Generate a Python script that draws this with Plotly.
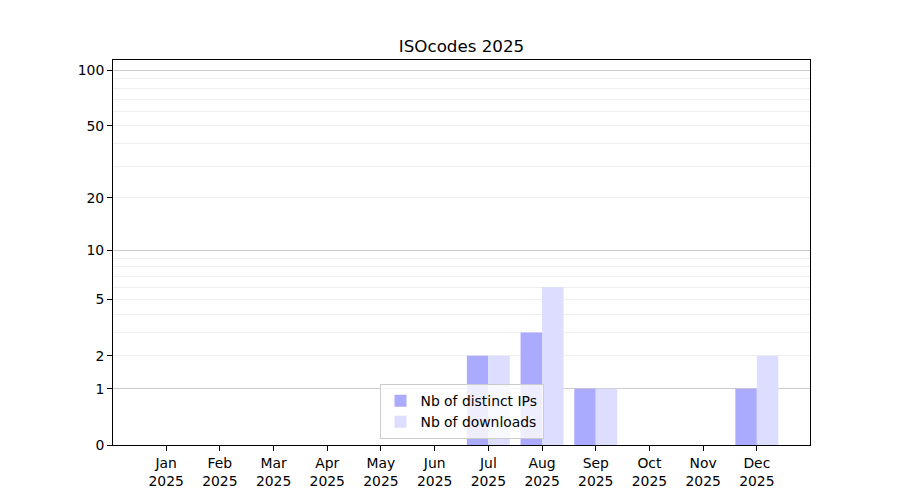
import plotly.graph_objects as go

months = ["Jan", "Feb", "Mar", "Apr", "May", "Jun",
          "Jul", "Aug", "Sep", "Oct", "Nov", "Dec"]
year = "2025"
distinct_ips = [0, 0, 0, 0, 0, 0, 2, 3, 1, 0, 0, 1]
downloads = [0, 0, 0, 0, 0, 0, 2, 6, 1, 0, 0, 2]

# y axis is log10(1 + n): plotted on a log axis with everything shifted by one
shift = 1
label_ticks = [0, 1, 2, 5, 10, 20, 50, 100]
major_grid = [1, 10, 100]
minor_grid = [2, 3, 4, 5, 6, 7, 8, 9, 20, 30, 40, 50, 60, 70, 80, 90]

x_labels = [f"{m}<br>{year}" for m in months]
font = dict(family="DejaVu Sans", size=13.9, color="black")


def create_chart():
    fig = go.Figure()
    fig.add_trace(go.Bar(
        x=x_labels, y=distinct_ips, base=shift,
        name="Nb of distinct IPs",
        marker_color="#aaaaff", marker_line_width=0,
    ))
    fig.add_trace(go.Bar(
        x=x_labels, y=downloads, base=shift,
        name="Nb of downloads",
        marker_color="#ddddff", marker_line_width=0,
    ))
    # invisible copy so the labelled overlay axis gets drawn
    fig.add_trace(go.Scatter(
        x=x_labels, y=[v + shift for v in distinct_ips], yaxis="y2",
        mode="markers", marker_opacity=0, hoverinfo="skip",
        showlegend=False,
    ))

    # the page body has an 8px margin, so margins are offset by it
    y_range = [0, 2.06]
    fig.update_layout(
        width=900, height=500,
        margin=dict(l=104.5, r=98, t=52, b=63),
        plot_bgcolor="white", paper_bgcolor="white",
        font=font,
        title=dict(text="ISOcodes 2025", x=0.5, xref="paper",
                   y=1 - 38 / 500, yref="container", yanchor="middle",
                   font=dict(family="DejaVu Sans", size=16.7, color="black")),
        barmode="group", bargap=0.2, bargroupgap=0,
        showlegend=True,
        legend=dict(x=0.5, xanchor="center", y=0.015, yanchor="bottom",
                    bgcolor="rgba(255,255,255,0.8)", bordercolor="#cccccc",
                    borderwidth=1, font=font, tracegroupgap=0),
        xaxis=dict(
            range=[-0.99, 11.99], showline=True, linecolor="black",
            linewidth=1, mirror=True, ticks="outside", ticklen=5,
            tickcolor="black", showgrid=False, tickfont=font,
        ),
        yaxis=dict(
            type="log", range=y_range,
            tickvals=[v + shift for v in major_grid],
            showticklabels=False, ticks="",
            showgrid=True, gridcolor="#cccccc", gridwidth=1,
            minor=dict(tickvals=[v + shift for v in minor_grid],
                       showgrid=True, gridcolor="#eeeeee", gridwidth=1,
                       ticks=""),
            showline=True, linecolor="black", linewidth=1, mirror=True,
            zeroline=False,
        ),
        yaxis2=dict(
            type="log", range=y_range, overlaying="y", side="left",
            anchor="x",
            tickvals=[v + shift for v in label_ticks],
            ticktext=[str(v) for v in label_ticks],
            ticks="outside", ticklen=5, tickcolor="black",
            showgrid=False, zeroline=False, tickfont=font,
        ),
    )

    fig.write_html("out.html")


create_chart()
